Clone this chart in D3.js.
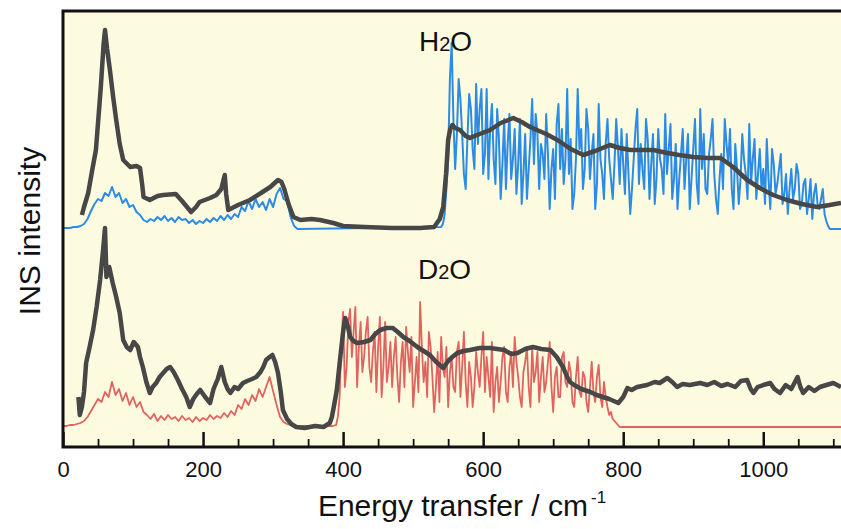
<!DOCTYPE html>
<meta charset="utf-8">
<head>
  <style>
    body { margin: 0; background: #fff; font-family: "Liberation Sans", Arial, Helvetica, sans-serif; }
    .tick text { font-size: 22px; fill: #111; }
    .title { font-size: 30px; fill: #111; }
    .panel-label { font-size: 28px; fill: #111; }
  </style>
</head>
<body>
  <div class="chart"></div>
  <script src="https://d3js.org/d3.v7.min.js"></script>
  <script>
  // simulated spectra are stored as two sampled pieces:
  // a low-energy part every 5 cm-1 starting at 0, and the band part every 2.5 cm-1
  var lowStep = 5, bandStep = 2.5;
  var plotEnd = 1111;

  // H2O simulation
  var h2oSimLow = [
    1,1,1,2,2,3,5,10,18,25, 30,28,36,33,42,32,36,26,30,22,
    24,17,14,9,7,10,8,12,9,13, 8,11,7,12,9,10,6,9,5,8,
    6,10,7,11,8,13,9,14,10,15, 12,22,18,28,20,30,22,27,19,30,
    22,35,41,30,28,12,3,0
  ];
  var h2oBandStart = 540;
  var h2oSimBand = [
    2,5,15,40,70,150,186,110,60,95,150,130,95,55,40,90,135,120,80,60,
    145,85,120,140,55,75,140,50,100,125,70,45,120,90,30,65,110,40,85,115,
    50,70,100,35,65,110,25,55,95,30,60,90,130,65,115,95,40,85,75,50,
    115,75,20,60,80,30,105,125,60,100,45,70,140,55,90,20,35,70,140,80,
    100,40,60,120,100,50,75,95,20,45,125,70,55,30,85,110,70,50,30,65,
    110,80,45,100,65,35,95,55,15,40,70,100,120,45,85,60,40,110,90,30,
    65,95,25,50,100,70,60,35,115,55,80,105,30,50,85,20,50,75,100,40,
    70,95,20,50,80,110,45,25,120,60,95,40,35,75,90,110,55,30,15,50,
    75,40,110,85,65,100,40,20,85,60,25,50,95,70,55,30,105,45,70,90,
    30,55,80,40,60,25,90,50,20,80,65,35,45,60,75,25,35,55,15,40,
    60,30,40,65,55,20,25,45,50,15,30,50,10,35,45,25,20,30,40,15,
    8,3,0
  ];

  // D2O simulation
  var d2oSimLow = [
    1,1,2,2,3,4,6,10,16,22, 28,25,35,30,45,32,38,26,34,22,
    30,20,25,15,12,8,13,6,11,7, 12,8,10,6,11,7,9,5,10,6,
    9,7,12,8,11,9,14,10,16,12, 22,18,28,22,32,26,38,30,40,50,
    36,22,10,5,3,2,1,1,1,1, 1,1,1,1,1,1,1,1
  ];
  var d2oBandStart = 390;
  var d2oSimBand = [
    2,10,30,85,115,40,60,105,118,70,95,120,40,80,105,55,70,95,110,60,
    45,75,95,35,80,110,30,60,105,45,60,85,40,70,90,50,25,65,85,40,
    100,75,55,90,20,45,70,35,125,80,45,65,30,95,80,50,15,40,75,25,
    90,60,50,80,20,55,70,40,35,75,85,30,60,95,45,20,65,50,20,40,
    75,55,40,70,95,35,70,50,30,85,15,45,60,25,45,70,80,35,25,60,
    75,40,90,65,50,30,20,55,65,80,40,20,80,45,55,75,25,50,70,35,
    45,65,85,40,15,50,60,30,30,70,75,45,40,65,55,25,20,50,70,35,
    30,55,50,25,15,40,65,35,25,50,62,30,20,45,30,20,12,15,8,6,
    4,2,0
  ];

  // measured spectra: [energy transfer, intensity]
  var h2oExp = [
    [27,14],[30,22],[36,36],[42,60],[47,79],[54,142],[58,185],[60,199],[63,180],[67,159],
    [72,130],[76,109],[81,85],[86,69],[96,62],[105,63],[110,61],[113,45],[115,32],[124,29],
    [135,33],[143,34],[161,35],[170,28],[183,17],[190,22],[195,27],[210,31],[219,34],[226,40],
    [231,54],[233,35],[236,19],[250,24],[267,29],[285,37],[296,42],[307,49],[312,47],[316,40],
    [322,25],[329,12],[339,9],[355,10],[367,9],[386,6],[400,3],[430,2],[470,1],[510,1],
    [530,2],[538,10],[543,22],[547,55],[550,89],[553,100],[556,104],[560,101],[567,99],[575,93],
    [581,91],[595,95],[610,99],[625,106],[643,111],[655,107],[667,102],[690,95],[706,89],[725,80],
    [743,74],[760,78],[781,84],[795,81],[810,79],[843,79],[863,76],[880,74],[900,72],[920,71],
    [939,71],[957,62],[977,49],[995,41],[1014,34],[1034,29],[1055,25],[1077,22],[1095,24],[1111,26]
  ];

  var d2oExp = [
    [22,30],[24,12],[27,20],[30,35],[33,64],[38,80],[43,97],[48,120],[53,147],[57,175],
    [60,199],[62,150],[66,160],[71,144],[76,130],[81,114],[86,87],[91,80],[96,77],[101,85],
    [107,80],[110,70],[114,60],[119,45],[124,34],[128,40],[133,44],[138,50],[143,54],[148,58],
    [153,60],[158,55],[164,47],[170,38],[176,30],[181,20],[186,28],[191,33],[196,37],[203,30],
    [210,24],[215,38],[221,48],[226,60],[231,45],[235,38],[239,34],[245,40],[250,38],[257,44],
    [263,46],[270,48],[276,50],[282,55],[286,60],[290,67],[295,70],[299,72],[303,65],[307,54],
    [311,35],[314,17],[320,8],[326,3],[333,0],[345,-1],[360,1],[372,0],[381,4],[384,10],
    [388,25],[391,37],[396,70],[400,95],[403,109],[407,100],[410,90],[415,86],[420,84],[430,85],
    [439,87],[446,93],[453,97],[462,99],[471,99],[478,95],[486,90],[495,86],[506,80],[515,76],
    [524,72],[533,65],[543,59],[550,66],[556,70],[563,74],[572,76],[581,77],[595,79],[610,79],
    [620,78],[630,77],[640,73],[649,74],[660,78],[671,80],[683,78],[696,77],[705,70],[714,60],
    [720,50],[724,45],[730,42],[740,38],[753,35],[762,32],[771,30],[780,28],[793,24],[800,30],
    [806,39],[812,37],[820,40],[834,42],[845,45],[852,44],[863,49],[870,45],[877,40],[885,43],
    [895,42],[910,44],[920,42],[930,45],[940,41],[949,43],[960,40],[968,46],[977,47],[982,38],
    [986,34],[992,40],[1000,42],[1010,44],[1016,38],[1024,34],[1032,42],[1040,38],[1049,50],[1053,40],
    [1057,34],[1065,40],[1073,36],[1081,40],[1090,42],[1100,44],[1111,40]
  ];

  var majorTicks = [0, 200, 400, 600, 800, 1000];
  var minorTicks = [50, 100, 150, 250, 300, 350, 450, 500, 550, 650, 700, 750, 850, 900, 950, 1050, 1100];

  // vertical offsets of the two stacked spectra
  var h2oOffset = 218, d2oOffset = 20;

  var W = 841, H = 529;
  var margin = { top: 11, right: 0, bottom: 82, left: 63 };

  var svg = d3.select(".chart").append("svg")
      .attr("width", W)
      .attr("height", H);

  var x = d3.scaleLinear().domain([0, plotEnd]).range([margin.left, W - margin.right]);
  var y = d3.scaleLinear().domain([0, 436]).range([H - margin.bottom, margin.top]);

  svg.append("rect")
      .attr("x", margin.left).attr("y", margin.top)
      .attr("width", W - margin.left).attr("height", H - margin.bottom - margin.top)
      .attr("fill", "#fdfbdf");

  svg.append("clipPath").attr("id", "clip")
    .append("rect")
      .attr("x", margin.left).attr("y", margin.top)
      .attr("width", W - margin.left).attr("height", H - margin.bottom - margin.top);

  var plot = svg.append("g").attr("clip-path", "url(#clip)");

  function simPoints(low, bandStart, band, off) {
    var pts = low.map(function(v, i) { return [i * lowStep, v + off]; });
    band.forEach(function(v, i) { pts.push([bandStart + i * bandStep, v + off]); });
    pts.push([plotEnd, off]);
    return pts;
  }
  function expPoints(vals, off) {
    return vals.map(function(d) { return [d[0], d[1] + off]; });
  }

  var line = d3.line()
      .x(function(d) { return x(d[0]); })
      .y(function(d) { return y(d[1]); });

  plot.append("path").datum(simPoints(h2oSimLow, h2oBandStart, h2oSimBand, h2oOffset))
      .attr("d", line).attr("fill", "none")
      .attr("stroke", "#2b8be6").attr("stroke-width", 2).attr("stroke-linejoin", "round");
  plot.append("path").datum(simPoints(d2oSimLow, d2oBandStart, d2oSimBand, d2oOffset))
      .attr("d", line).attr("fill", "none")
      .attr("stroke", "#e0635f").attr("stroke-width", 1.8).attr("stroke-linejoin", "round");

  plot.append("path").datum(expPoints(h2oExp, h2oOffset))
      .attr("d", line).attr("fill", "none")
      .attr("stroke", "#474747").attr("stroke-width", 4.5).attr("stroke-linejoin", "round");
  plot.append("path").datum(expPoints(d2oExp, d2oOffset))
      .attr("d", line).attr("fill", "none")
      .attr("stroke", "#474747").attr("stroke-width", 4.5).attr("stroke-linejoin", "round");

  // x axis: ticks point inward
  var y0 = H - margin.bottom;
  svg.append("g")
      .attr("class", "axis")
      .attr("transform", "translate(0," + y0 + ")")
      .call(d3.axisBottom(x).tickValues(majorTicks).tickSize(-15).tickPadding(14).tickFormat(d3.format("d")))
      .call(function(g) {
        g.select(".domain").remove();
        g.selectAll(".tick line").attr("stroke", "#111").attr("stroke-width", 2.5);
        g.selectAll(".tick text").attr("font-family", null);
      });
  svg.append("g")
      .attr("transform", "translate(0," + y0 + ")")
      .call(d3.axisBottom(x).tickValues(minorTicks).tickSize(-8).tickFormat(""))
      .call(function(g) {
        g.select(".domain").remove();
        g.selectAll(".tick line").attr("stroke", "#111").attr("stroke-width", 1.8);
      });

  // frame (left, top, bottom)
  svg.append("path")
      .attr("d", "M" + W + "," + margin.top + "H" + margin.left + "V" + y0 + "H" + W)
      .attr("fill", "none").attr("stroke", "#111").attr("stroke-width", 3);

  // titles
  var xt = svg.append("text").attr("class", "title")
      .attr("x", 462).attr("y", 516).attr("text-anchor", "middle");
  xt.append("tspan").text("Energy transfer / cm");
  xt.append("tspan").attr("dy", -13).attr("dx", 3).style("font-size", "17px").text("-1");

  svg.append("text").attr("class", "title")
      .attr("transform", "translate(40,231) rotate(-90)")
      .attr("text-anchor", "middle")
      .text("INS intensity");

  var h = svg.append("text").attr("class", "panel-label").attr("x", 419).attr("y", 51);
  h.append("tspan").text("H");
  h.append("tspan").style("font-size", "20px").text("2");
  h.append("tspan").text("O");

  var d = svg.append("text").attr("class", "panel-label").attr("x", 418).attr("y", 279);
  d.append("tspan").text("D");
  d.append("tspan").style("font-size", "20px").text("2");
  d.append("tspan").text("O");
  </script>
</body>
